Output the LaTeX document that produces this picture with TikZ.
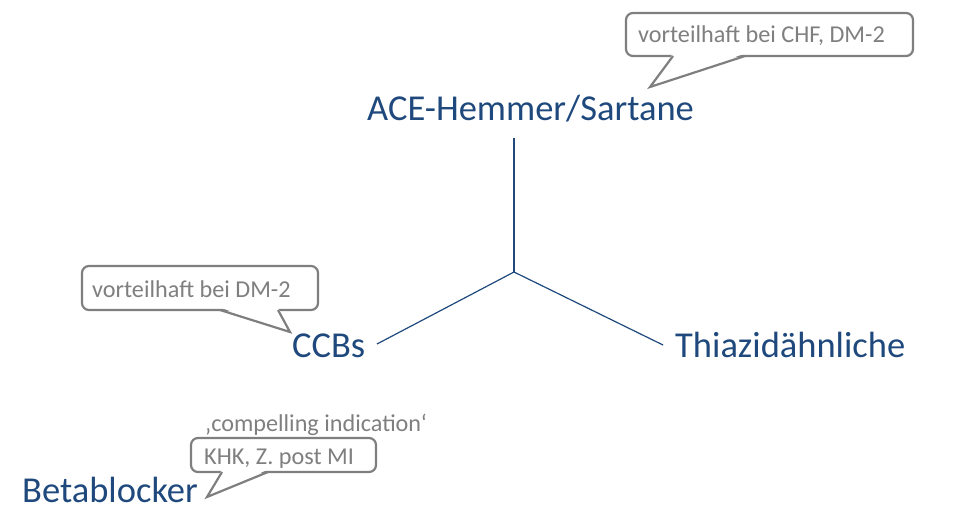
\documentclass[tikz,border=0pt]{standalone}
\usepackage{fontspec}
\setmainfont{Carlito}
\usetikzlibrary{calc}
\definecolor{dblue}{RGB}{31,73,125}
\definecolor{cgray}{RGB}{127,127,127}
\tikzset{
  drug/.style={text=dblue, font=\fontsize{36.5}{40}\selectfont, inner sep=0pt, anchor=base west},
  note/.style={text=cgray, font=\fontsize{24.2}{27}\selectfont, inner sep=0pt, anchor=base west},
  bubble/.style={draw=cgray, line width=2.2pt, rounded corners=7pt, fill=white, inner sep=0pt},
  tailfill/.style={fill=white},
  tailline/.style={draw=cgray, line width=2.2pt, line join=miter},
  link/.style={draw=dblue, line width=1.2pt},
}
\begin{document}
\begin{tikzpicture}[x=1pt,y=-1pt]
\useasboundingbox (0,0) rectangle (957,508);

% drugs
\node[drug] (ace) at (367,121) {ACE-Hemmer/Sartane};
\node[drug] (ccb) at (292,357) {CCBs};
\node[drug] (thz) at (675,357) {Thiazidähnliche};
\node[drug] (bb)  at (22,502.5) {Betablocker};

% connectors
\coordinate (hub) at (514,272);
\coordinate (aceend) at (514,138);
\coordinate (ccbend) at (377,344);
\coordinate (thzend) at (663,345);
\draw[link] (aceend) -- (hub);
\draw[link] (hub) -- (ccbend);
\draw[link] (hub) -- (thzend);

% callout 1
\node[bubble, minimum width=287pt, minimum height=43pt] (b1) at (769.5,34.5) {};
\coordinate (b1l) at (673,56);
\coordinate (b1r) at (745,56);
\coordinate (b1t) at (650,87);
\fill[tailfill] ($(b1l)+(0,-2.5)$) -- (b1t) -- ($(b1r)+(0,-2.5)$) -- cycle;
\draw[tailline] (b1l) -- (b1t) -- (b1r);
\node[note] (n1) at (638,43) {vorteilhaft bei CHF, DM-2};

% callout 2
\node[bubble, minimum width=236pt, minimum height=44pt] (b2) at (200,288) {};
\coordinate (b2l) at (220,310);
\coordinate (b2r) at (278,310);
\coordinate (b2t) at (290,332);
\fill[tailfill] ($(b2l)+(0,-2.5)$) -- (b2t) -- ($(b2r)+(0,-2.5)$) -- cycle;
\draw[tailline] (b2l) -- (b2t) -- (b2r);
\node[note] (n2) at (92,297) {vorteilhaft bei DM-2};

% callout 3
\node[bubble, minimum width=185pt, minimum height=34pt] (b3) at (283.5,455) {};
\coordinate (b3l) at (222,472);
\coordinate (b3r) at (268,472);
\coordinate (b3t) at (207,497);
\fill[tailfill] ($(b3l)+(0,-2.5)$) -- (b3t) -- ($(b3r)+(0,-2.5)$) -- cycle;
\draw[tailline] (b3l) -- (b3t) -- (b3r);
\node[note] (n3) at (204,464) {KHK, Z. post MI};
\node[note] (n4) at (205,431) {‚compelling indication‘};
\end{tikzpicture}
\end{document}
